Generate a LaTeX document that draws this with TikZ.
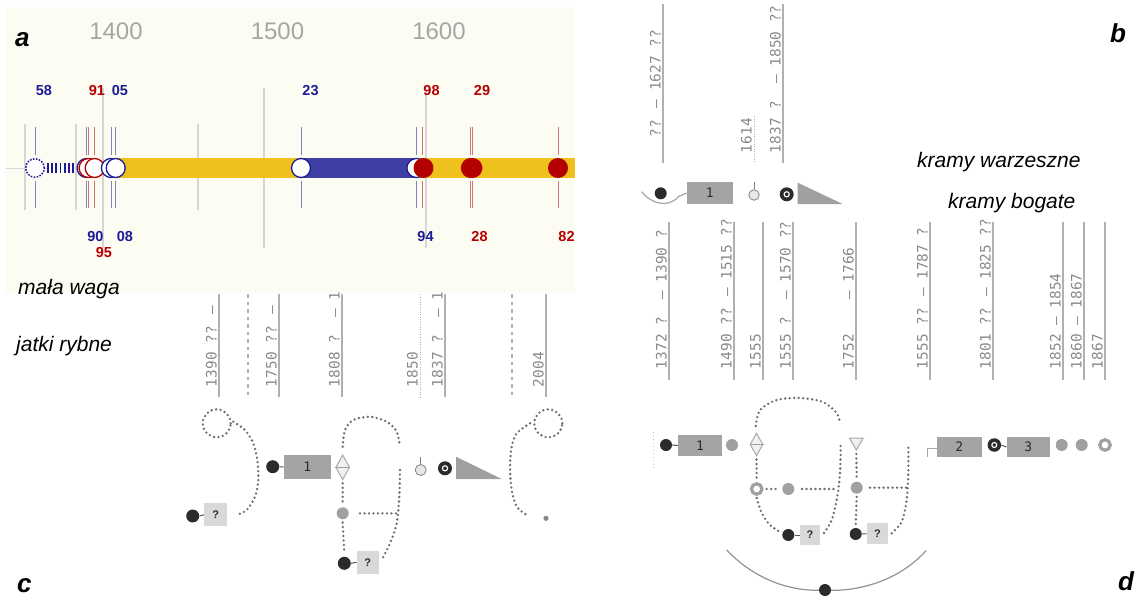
\documentclass[tikz,border=0pt]{standalone}
\usepackage{fontspec}
\setmainfont{Liberation Sans}
\newfontfamily\monof{DejaVu Sans Mono}
\usetikzlibrary{shapes.geometric}
\definecolor{cream}{HTML}{FDFCF3}
\definecolor{barY}{HTML}{F0C01C}
\definecolor{barB}{HTML}{3E3EA3}
\definecolor{dblue}{HTML}{1C1C96}
\definecolor{dred}{HTML}{B40000}
\definecolor{tickgray}{HTML}{D6D6D6}
\definecolor{yeargray}{HTML}{A6A6A6}
\definecolor{lgray}{HTML}{B0B0B0}
\definecolor{lblgray}{HTML}{8A8A8A}
\definecolor{dotgray}{HTML}{6C6C6C}
\definecolor{boxgray}{HTML}{A4A4A4}
\definecolor{qgray}{HTML}{D9D9D9}
\definecolor{blk}{HTML}{2B2B2B}
\definecolor{cgray}{HTML}{A0A0A0}
\tikzset{
 dots/.style={draw=dotgray, line width=2.6pt, line cap=round, dash pattern=on 0pt off 4.5pt},
 vlab/.style={font=\monof\fontsize{14.4}{14.4}\selectfont, text=lblgray, rotate=90, anchor=base west, inner sep=0pt, outer sep=0pt},
 vln/.style={draw=lgray, line width=1.3pt},
 vlndash/.style={draw=lgray, line width=1.2pt, dash pattern=on 3.5pt off 4pt},
 vlndot/.style={draw=lgray, line width=1pt, dash pattern=on 1pt off 1.5pt},
 numbox/.style={fill=boxgray, inner sep=0pt, font=\monof\fontsize{13}{13}\selectfont, text=blk},
 qbox/.style={fill=qgray, inner sep=0pt, font=\bfseries\fontsize{11}{11}\selectfont, text=blk},
 bdot/.style={circle, fill=blk, inner sep=0pt, minimum size=12pt},
 gdot/.style={circle, fill=cgray, inner sep=0pt, minimum size=12pt},
 gring/.style={circle, draw=cgray, line width=3.2pt, fill=white, inner sep=0pt, minimum size=10.5pt},
 bring/.style={circle, fill=blk, inner sep=0pt, minimum size=14pt},
 stemc/.style={circle, draw=gray!90, fill=gray!18, line width=0.9pt, inner sep=0pt, minimum size=11pt},
 dia/.style={diamond, draw=cgray!90, fill=gray!12, line width=1pt, inner sep=0pt, minimum width=14pt, minimum height=25pt},
 link/.style={draw=blk!80, line width=1pt},
 panel/.style={font=\bfseries\itshape\fontsize{26}{26}\selectfont, text=black, inner sep=0pt, anchor=base west},
 place/.style={font=\itshape\fontsize{21}{21}\selectfont, text=black, inner sep=0pt, anchor=base west},
 year/.style={font=\fontsize{24}{24}\selectfont, text=yeargray, inner sep=0pt, anchor=base},
 lb/.style={font=\bfseries\fontsize{14.5}{14.5}\selectfont, text=dblue, inner sep=0pt, anchor=base},
 lr/.style={lb, text=dred},
 ocB/.style={circle, draw=dblue, fill=white, line width=1.3pt, inner sep=0pt, minimum size=19pt},
 ocR/.style={ocB, draw=dred},
 fcR/.style={circle, fill=dred, inner sep=0pt, minimum size=20pt},
 tkB/.style={draw=dblue!55, line width=0.8pt},
 tkR/.style={draw=dred!55, line width=0.8pt},
 tkG/.style={draw=tickgray, line width=1.3pt},
}
\begin{document}
\begin{tikzpicture}[x=1pt,y=-1pt]
\useasboundingbox (0,0) rectangle (1136,597);
\fill[white] (0,0) rectangle (1136,597);

% ================= panel a =================
\fill[cream] (5,7) rectangle (575,293);
\draw[tkG, line width=1pt] (6,168) -- (47,168);
\foreach \x in {25,76,198} {\draw[tkG] (\x,124) -- (\x,210);}
\draw[tkG] (103,88) -- (103,248);
\draw[tkG] (264,88) -- (264,248);
\draw[tkG] (426,92) -- (426,248);
\node[year] (y1400) at (116,39) {1400};
\node[year] (y1500) at (277.5,39) {1500};
\node[year] (y1600) at (439,39) {1600};
\fill[barY] (116,158) rectangle (575,178);
\fill[barB] (301,158) rectangle (416,178);
% ticks
\foreach \x in {35,86.6,110.9,115.7,301,416.4} {\draw[tkB] (\x,127) -- (\x,155) (\x,181) -- (\x,208);}
\foreach \x in {88.6,94.7,422.8,470.8,472.6,558} {\draw[tkR] (\x,127) -- (\x,155) (\x,181) -- (\x,208);}
% circles
\node[circle, draw=dblue, fill=white, line width=1.5pt, dash pattern=on 1.6pt off 1.4pt, inner sep=0pt, minimum size=18.5pt] (c1358) at (35,168) {};
\draw[dblue, line width=10pt, dash pattern=on 1.7pt off 2.5pt] (47,168) -- (74,168);
\node[ocB] (c1390) at (86.6,168) {};
\node[ocR] (c1391) at (88.6,168) {};
\node[ocR] (c1395) at (94.7,168) {};
\node[ocB] (c1405) at (110.9,168) {};
\node[ocB] (c1408) at (115.7,168) {};
\node[ocB] (c1523) at (301,168) {};
\node[ocB] (c1594) at (416.4,168) {};
\node[fcR] (c1598) at (423.5,168) {};
\node[fcR] (c1628) at (470.8,168) {};
\node[fcR] (c1629) at (472.4,168) {};
\node[fcR] (c1682) at (558,168) {};
% labels
\node[lb] (l58) at (44,95) {58};
\node[lr] (l91) at (97,95) {91};
\node[lb] (l05) at (120,95) {05};
\node[lb] (l23) at (310.5,95) {23};
\node[lr] (l98) at (431.5,95) {98};
\node[lr] (l29) at (482,95) {29};
\node[lb] (l90) at (95.5,241) {90};
\node[lb] (l08) at (125,241) {08};
\node[lr] (l95) at (104,257) {95};
\node[lb] (l94) at (425.5,241) {94};
\node[lr] (l28) at (479.5,241) {28};
\node[lr] (l82) at (566.5,241) {82};
\node[panel] (pa) at (15,46) {a};
\node[place] (tmw) at (18,294) {mała waga};
\node[place] (tjr) at (16,351) {jatki rybne};

% ================= panel b =================
\node[panel] (pb) at (1110,42) {b};
\draw[vln] (663,4) -- (663,163);
\node[vlab] (lb1) at (660.5,137) {?? – 1627 ??};
\draw[vlndot] (754,116) -- (754,163);
\node[vlab] (lb2) at (751.5,153) {1614};
\draw[vln] (783,4) -- (783,163);
\node[vlab] (lb3) at (780.5,153) {1837 ?~~– 1850 ??};
\node[numbox, minimum width=46pt, minimum height=22pt] (bn1) at (709.7,193) {1};
\draw[draw=cgray!90, line width=1.3pt] (641.7,191.7) .. controls (650,203) and (668,209) .. (678.3,196.7) -- (bn1.west);
\node[bdot] (bb1) at (660.7,193.3) {};
\node[stemc, minimum size=10.5pt] (bs) at (754,195) {};
\draw[gray, line width=0.9pt] (bs.north) -- ++(0,-7);
\node[bring] (br) at (786.7,194.3) {};
\draw[white, line width=1.1pt] (br.center) circle[radius=2.6pt];
\fill[cgray] (797.7,182.7) -- (797.7,204) -- (842.7,204) -- cycle;
\node[place] (tkw) at (917,167) {kramy warzeszne};
\node[place] (tkb) at (948,208) {kramy bogate};

% ================= panel c =================
\draw[vln] (219,294) -- (219,397);
\node[vlab] (lc1) at (216.5,387) {1390 ?? –};
\draw[vlndash] (248,294) -- (248,397);
\draw[vln] (279,294) -- (279,397);
\node[vlab] (lc2) at (276.5,387) {1750 ?? –};
\draw[vln] (342,294) -- (342,397);
\node[vlab] (lc3) at (339.5,387) {1808 ?~~– 1};
\draw[vlndot] (420,294) -- (420,397);
\node[vlab] (lc4) at (417.5,387) {1850};
\draw[vln] (445,294) -- (445,397);
\node[vlab] (lc5) at (442.5,387) {1837 ?~~– 1};
\draw[vlndash] (512,294) -- (512,397);
\draw[vln] (546,294) -- (546,397);
\node[vlab] (lc6) at (543.5,387) {2004};

\node[bdot, minimum size=13pt] (cb1) at (192.7,516) {};
\node[qbox, minimum width=23pt, minimum height=23pt] (cq1) at (215.7,514.7) {?};
\draw[link] (cb1.east) -- (cq1.west);
\node[bdot, minimum size=13pt] (cb2) at (272.7,466.7) {};
\node[numbox, minimum width=47pt, minimum height=24pt] (cn1) at (307.3,467) {1};
\draw[link] (cb2.east) -- (cn1.west);
\node[dia] (cdi) at (342.7,467.3) {};
\draw[draw=cgray, line width=1pt] (cdi.west) -- (cdi.east);
\node[gdot] (cg1) at (342.7,513.3) {};
\node[bdot, minimum size=13pt] (cb3) at (344.3,563.3) {};
\node[qbox, minimum width=22pt, minimum height=23pt] (cq2) at (367.8,562.3) {?};
\draw[link] (cb3.east) -- (cq2.west);
\node[stemc] (cs) at (420.7,470) {};
\draw[gray, line width=0.9pt] (cs.north) -- ++(0,-7);
\node[bring] (cr) at (445,468.3) {};
\draw[white, line width=1.1pt] (cr.center) circle[radius=2.6pt];
\fill[cgray] (456,456.7) -- (456,479) -- (501.7,479) -- cycle;

\draw[dots] (216.7,423.3) circle[radius=14pt];
\draw[dots] plot[smooth] coordinates {(233.3,421.7) (245,430) (253.3,443.3) (257.3,460) (258.3,480) (255,496.7) (246.7,510) (236.7,515)};
\draw[dots] ([yshift=-3pt]cdi.south) -- ([yshift=3pt]cg1.north);
\draw[dots] ([yshift=-3pt]cg1.south) -- ([yshift=3pt]cb3.north);
\draw[dots] (360,513.3) -- (398.3,513.3);
\draw[dots] plot[smooth] coordinates {(342.7,446.7) (345,430) (353.3,420) (370,416.7) (386.7,421.7) (396.7,431.7) (400,446.7)};
\draw[dots] plot[smooth] coordinates {(400,470) (399.3,496.7) (396.7,523.3) (390,543.3) (381.7,560)};
\draw[dots] (548.3,423.3) circle[radius=14pt];
\draw[dots] plot[smooth] coordinates {(530,423.3) (516.7,433.3) (511.7,446.7) (510,466.7) (511.7,490) (516.7,506.7) (526.7,515)};
\fill[dotgray!80] (546,518.3) circle[radius=2.6pt];
\node[panel] (pc) at (17,592) {c};

% ================= panel d =================
\draw[vln] (669,222) -- (669,380);
\node[vlab] (ld1) at (666.5,369) {1372 ?~~– 1390 ?};
\draw[vln] (734,222) -- (734,380);
\node[vlab] (ld2) at (731.5,369) {1490 ?? – 1515 ??};
\draw[vln] (763,222) -- (763,380);
\node[vlab] (ld3) at (760.5,369) {1555};
\draw[vln] (793,222) -- (793,380);
\node[vlab] (ld4) at (790.5,369) {1555 ?~~– 1570 ??};
\draw[vln] (856,222) -- (856,380);
\node[vlab] (ld5) at (853.5,369) {1752~~~~– 1766};
\draw[vln] (930,222) -- (930,380);
\node[vlab] (ld6) at (927.5,369) {1555 ?? – 1787 ?};
\draw[vln] (993,222) -- (993,380);
\node[vlab] (ld7) at (990.5,369) {1801 ?? – 1825 ??};
\draw[vln] (1063,222) -- (1063,380);
\node[vlab] (ld8) at (1060.5,369) {1852 – 1854};
\draw[vln] (1084,222) -- (1084,380);
\node[vlab] (ld9) at (1081.5,369) {1860 – 1867};
\draw[vln] (1105,222) -- (1105,380);
\node[vlab] (ld10) at (1102.5,369) {1867};

\draw[draw=gray!45, line width=1pt, dash pattern=on 1pt off 2.5pt] (653,432) -- (653,470);
\node[bdot] (db1) at (666,445) {};
\node[numbox, minimum width=44pt, minimum height=21pt] (dn1) at (700,445.5) {1};
\draw[link] (db1.east) -- (dn1.west);
\node[gdot] (dg1) at (732,445) {};
\node[dia, minimum width=13pt, minimum height=23pt] (ddi) at (756.5,444.5) {};
\draw[draw=cgray, line width=1pt] (ddi.west) -- (ddi.east);
\node[gring] (dr1) at (756.7,489) {};
\node[gdot] (dg2) at (788.3,489) {};
\node[bdot] (db2) at (788.3,535) {};
\node[qbox, minimum width=20pt, minimum height=20pt] (dq1) at (810,535) {?};
\draw[link] (db2.east) -- (dq1.west);
\node[regular polygon, regular polygon sides=3, shape border rotate=180, draw=cgray!90, fill=gray!12, line width=1pt, inner sep=0pt, minimum size=16pt] (dtri) at (856.3,442) {};
\node[gdot] (dg3) at (856.7,487.7) {};
\node[bdot] (db3) at (855.7,534) {};
\node[qbox, minimum width=21.6pt, minimum height=21pt] (dq2) at (877.5,533.7) {?};
\draw[link] (db3.east) -- (dq2.west);
\node[numbox, minimum width=45pt, minimum height=20pt] (dn2) at (959.2,446.7) {2};
\coordinate (dk) at (927.3,448.3);
\draw[draw=gray!70, line width=1.2pt] (927.3,456.7) -- (dk) -- (dk -| dn2.west);
\node[bring, minimum size=13.5pt] (dr2) at (994.3,445) {};
\draw[white, line width=1.1pt] (dr2.center) circle[radius=2.5pt];
\node[numbox, minimum width=43.3pt, minimum height=20pt] (dn3) at (1028.3,447) {3};
\draw[link] (dr2.east) -- (dn3.west);
\node[gdot] (dg4) at (1061.7,445) {};
\node[gdot] (dg5) at (1081.7,445) {};
\node[gring] (dr3) at (1105,445) {};

\draw[dots] plot[smooth] coordinates {(755.7,426) (760,410) (776.7,400) (800,398) (823,402) (836.7,413) (840,423)};
\draw[dots] ([yshift=-3pt]ddi.south) -- ([yshift=3pt]dr1.north);
\draw[dots] ([xshift=3pt]dr1.east) -- ([xshift=-3pt]dg2.west);
\draw[dots] (802,489) -- (838,489);
\draw[dots] plot[smooth] coordinates {(756.7,498) (761.7,513) (770,525) (780,532)};
\draw[dots] plot[smooth] coordinates {(824,533) (831.7,520) (837.3,496.7) (840,473) (840.7,445)};
\draw[dots] ([yshift=-3pt]dtri.south) -- ([yshift=3pt]dg3.north);
\draw[dots] ([yshift=-3pt]dg3.south) -- ([yshift=3pt]db3.north);
\draw[dots] (870,487.7) -- (907.3,487.7);
\draw[dots] plot[smooth] coordinates {(891.7,533.3) (901.7,521.7) (906.7,500) (908.3,473) (908.3,445)};

\coordinate (dbot) at (825,590);
\draw[draw=gray!85, line width=1.2pt] (726.7,550) .. controls (760,585) and (800,592) .. (dbot) .. controls (850,592) and (895,585) .. (926,550.7);
\node[bdot] (db4) at (dbot) {};
\node[panel] (pd) at (1118,590) {d};
\end{tikzpicture}
\end{document}
